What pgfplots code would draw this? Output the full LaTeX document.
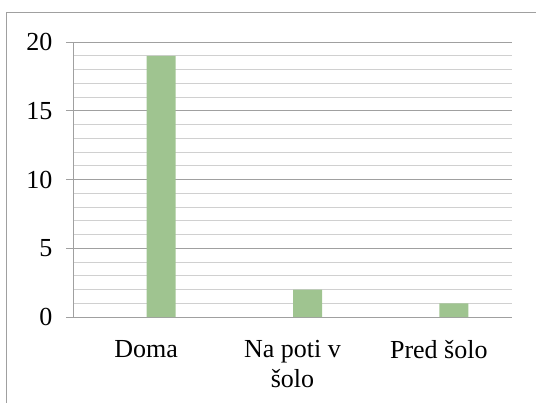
\documentclass[border=0pt]{standalone}
\usepackage{fontspec}
\setmainfont{Liberation Serif}
\usepackage{pgfplots}
\pgfplotsset{compat=1.18}
\definecolor{bargreen}{RGB}{159,196,144}
\definecolor{gridmaj}{RGB}{160,160,160}
\definecolor{gridmin}{RGB}{208,208,208}
\definecolor{framegray}{RGB}{160,160,160}
\begin{document}
\begin{tikzpicture}
\path[use as bounding box] (-73bp,-86bp) rectangle (463bp,317bp);
\draw[framegray, line width=1bp] (-66bp,-90bp) -- (-66bp,304bp) -- (470bp,304bp);
\begin{axis}[
  at={(0,0)}, anchor=south west,
  scale only axis, width=439bp, height=275bp,
  xmin=-0.5, xmax=2.5, ymin=0, ymax=20,
  ytick={0,5,...,20}, minor y tick num=4,
  ymajorgrids, yminorgrids,
  major grid style={gridmaj, line width=1bp},
  minor grid style={gridmin, line width=1bp},
  axis x line*=bottom, axis y line*=left,
  axis line style={gridmaj, line width=1bp},
  tick align=outside, major tick length=7bp, minor tick length=0pt,
  ytick style={gridmaj, line width=1bp},
  xtick={0,1,2}, xticklabels={Doma,{Na poti v\\šolo},Pred šolo},
  xtick style={draw=none},
  ticklabel style={font=\fontsize{26bp}{30bp}\selectfont},
  yticklabel style={anchor=east, xshift=-10bp},
  xticklabel style={align=center, anchor=north, yshift=-13bp},
  /pgf/number format/assume math mode=true,
]
% values per category
\addplot[ybar, bar width=29bp, bar shift=15bp, fill=bargreen, draw=none]
  coordinates {(0,19) (1,2) (2,1)};
\end{axis}
\end{tikzpicture}
\end{document}
